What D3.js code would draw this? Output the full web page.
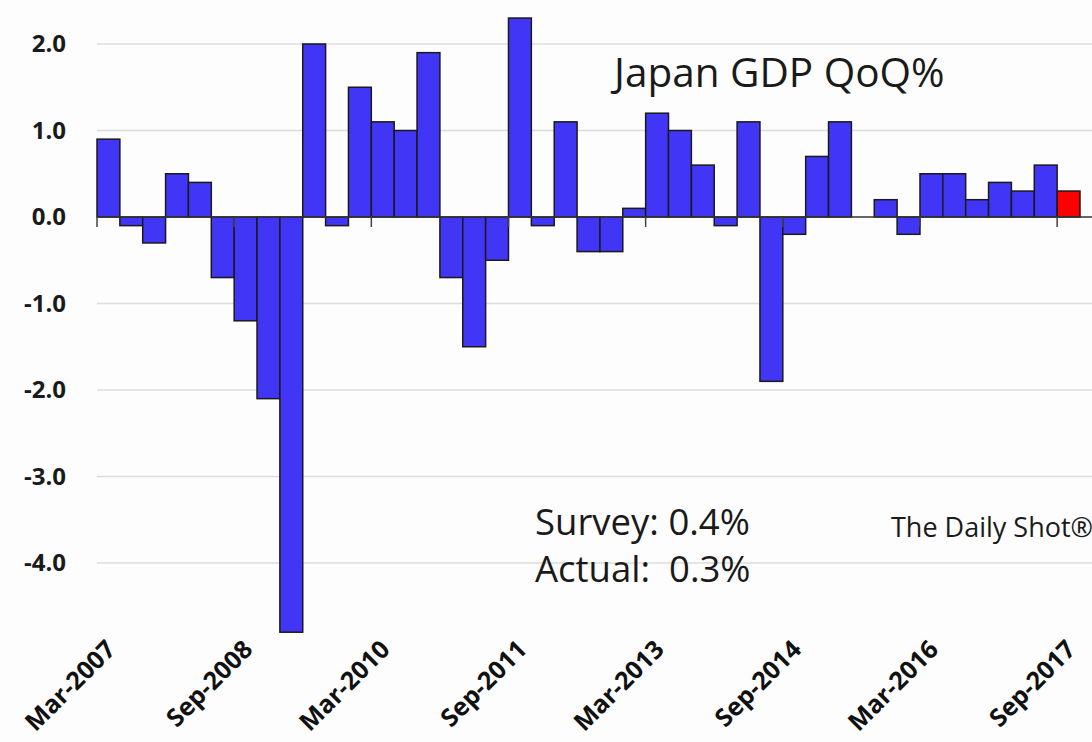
<!DOCTYPE html>
<html>
<head>
<meta charset="utf-8">
<script src="https://cdn.jsdelivr.net/npm/d3@7"></script>
<style>
  html, body { margin: 0; padding: 0; background: #fdfdfd; }
  svg { display: block; }
</style>
</head>
<body>
<svg id="chart" width="1092" height="742"></svg>
<script>
// ---- Data ----
const quarters = [
  "Mar-2007","Jun-2007","Sep-2007","Dec-2007",
  "Mar-2008","Jun-2008","Sep-2008","Dec-2008",
  "Mar-2009","Jun-2009","Sep-2009","Dec-2009",
  "Mar-2010","Jun-2010","Sep-2010","Dec-2010",
  "Mar-2011","Jun-2011","Sep-2011","Dec-2011",
  "Mar-2012","Jun-2012","Sep-2012","Dec-2012",
  "Mar-2013","Jun-2013","Sep-2013","Dec-2013",
  "Mar-2014","Jun-2014","Sep-2014","Dec-2014",
  "Mar-2015","Jun-2015","Sep-2015","Dec-2015",
  "Mar-2016","Jun-2016","Sep-2016","Dec-2016",
  "Mar-2017","Jun-2017","Sep-2017"
];
const gdpQoQ = [
  0.9, -0.1, -0.3, 0.5,
  0.4, -0.7, -1.2, -2.1,
  -4.8, 2.0, -0.1, 1.5,
  1.1, 1.0, 1.9, -0.7,
  -1.5, -0.5, 2.3, -0.1,
  1.1, -0.4, -0.4, 0.1,
  1.2, 1.0, 0.6, -0.1,
  1.1, -1.9, -0.2, 0.7,
  1.1, 0.0, 0.2, -0.2,
  0.5, 0.5, 0.2, 0.4,
  0.3, 0.6, 0.3
];
const highlightQuarter = "Sep-2017";
const xTickLabels = ["Mar-2007","Sep-2008","Mar-2010","Sep-2011","Mar-2013","Sep-2014","Mar-2016","Sep-2017"];
const yTickValues = [2, 1, 0, -1, -2, -3, -4];
const titleText = "Japan GDP QoQ%";
const noteLines = ["Survey: 0.4%", "Actual:  0.3%"];
const sourceText = "The Daily Shot\u00AE";

// ---- Layout ----
const svg = d3.select("#chart");
const W = 1092, H = 742;
const plotLeft = 97, plotRight = 1080, gridRight = 1092;

const x = d3.scaleBand().domain(quarters).range([plotLeft, plotRight]).paddingInner(0).paddingOuter(0);
const y = d3.scaleLinear().domain([-4.8, 2.0]).range([632.2, 44]);

svg.append("rect").attr("width", W).attr("height", H).attr("fill", "#fdfdfd");

// gridlines
svg.append("g").selectAll("line").data(yTickValues.filter(v => v !== 0)).join("line")
  .attr("x1", plotLeft).attr("x2", gridRight)
  .attr("y1", d => y(d)).attr("y2", d => y(d))
  .attr("stroke", "#dcdcdc").attr("stroke-width", 1.5);

// y axis labels
const yAxis = d3.axisLeft(y).tickValues(yTickValues).tickSize(0).tickPadding(0)
  .tickFormat(d => d.toFixed(1));
const yg = svg.append("g").attr("transform", `translate(66,0)`).call(yAxis);
yg.select(".domain").remove();
yg.selectAll("text")
  .attr("font-family", "'Open Sans', sans-serif")
  .attr("font-weight", 700)
  .attr("font-size", 24)
  .attr("fill", "#1a1a1a");

// bars
svg.append("g").selectAll("rect").data(quarters.map((q, i) => ({q, v: gdpQoQ[i]})).filter(d => d.v !== 0)).join("rect")
  .attr("x", d => x(d.q))
  .attr("width", x.bandwidth())
  .attr("y", d => Math.min(y(d.v), y(0)))
  .attr("height", d => Math.abs(y(d.v) - y(0)))
  .attr("fill", d => d.q === highlightQuarter ? "#ff0000" : "#4236f6")
  .attr("stroke", "#1a1a1a")
  .attr("stroke-width", 1.5);

// zero line
svg.append("line")
  .attr("x1", plotLeft).attr("x2", gridRight)
  .attr("y1", y(0)).attr("y2", y(0))
  .attr("stroke", "#333").attr("stroke-width", 1.5);

// x ticks
const xAxis = d3.axisBottom(x).tickValues(xTickLabels).tickSize(10).tickFormat("");
const xg = svg.append("g").attr("transform", `translate(${-x.bandwidth() / 2},${y(0)})`).call(xAxis);
xg.select(".domain").remove();
xg.selectAll(".tick line").attr("stroke", "#444").attr("stroke-width", 1.5);

// x labels
svg.append("g").selectAll("text").data(xTickLabels).join("text")
  .attr("transform", d => `translate(${x(d) + 20},651) rotate(-45)`)
  .attr("text-anchor", "end")
  .attr("font-family", "'Open Sans', sans-serif")
  .attr("font-weight", 700)
  .attr("font-size", 25)
  .attr("fill", "#111")
  .text(d => d);

// title
svg.append("text")
  .attr("x", 614).attr("y", 87)
  .attr("font-family", "'Open Sans', sans-serif")
  .attr("font-size", 40.5)
  .attr("fill", "#1a1a1a")
  .text(titleText);

// notes
svg.append("g").selectAll("text").data(noteLines).join("text")
  .attr("x", 535).attr("y", (d, i) => 535 + i * 47)
  .attr("font-family", "'Open Sans', sans-serif")
  .attr("font-size", 36.5)
  .attr("fill", "#1a1a1a")
  .attr("xml:space", "preserve")
  .style("white-space", "pre")
  .text(d => d);

// source
svg.append("text")
  .attr("x", 891).attr("y", 537)
  .attr("font-family", "'Open Sans', sans-serif")
  .attr("font-size", 27)
  .attr("fill", "#1a1a1a")
  .text(sourceText);
</script>
</body>
</html>
